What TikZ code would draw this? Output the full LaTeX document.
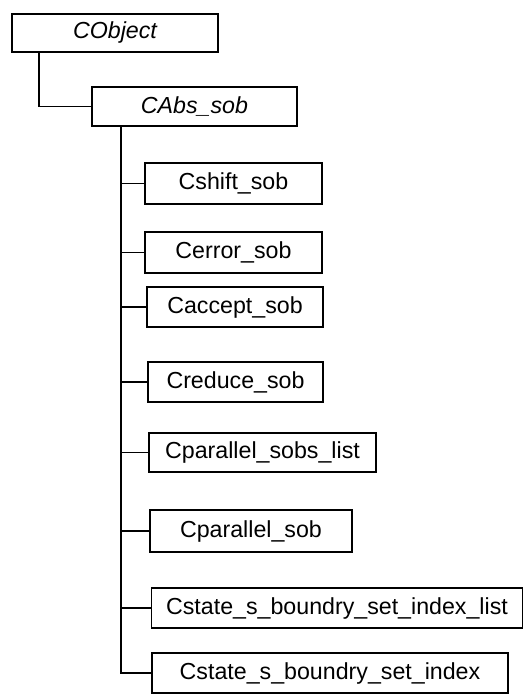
\documentclass[tikz,border=0pt]{standalone}
\usepackage{fontspec}
\setmainfont{Liberation Sans}
\begin{document}
\begin{tikzpicture}[x=1pt,y=-1pt,
  box/.style={draw,line width=1.4pt,rectangle,inner sep=0pt,font=\fontsize{23.2}{25}\selectfont},
  ibox/.style={box,font=\fontsize{23.2}{25}\selectfont\itshape},
  link/.style={line width=1.4pt}]
\useasboundingbox (0,0) rectangle (524,696);
\node[ibox,minimum width=206pt,minimum height=38pt] (cobj) at (115,33) {CObject};
\node[ibox,minimum width=205pt,minimum height=39pt] (cabs) at (194.5,106.5) {CAbs\_sob};
\node[box,minimum width=177pt,minimum height=41pt] (shift) at (233.5,183.5) {Cshift\_sob};
\node[box,minimum width=177pt,minimum height=41pt] (error) at (233.5,252.5) {Cerror\_sob};
\node[box,minimum width=176pt,minimum height=40pt] (accept) at (235,307) {Caccept\_sob};
\node[box,minimum width=175pt,minimum height=40pt] (reduce) at (235.5,382) {Creduce\_sob};
\node[box,minimum width=227pt,minimum height=39pt] (psl) at (262.5,452.5) {Cparallel\_sobs\_list};
\node[box,minimum width=202pt,minimum height=42pt] (psob) at (251,531) {Cparallel\_sob};
\node[box,minimum width=371pt,minimum height=40pt] (sbsil) at (337,608) {Cstate\_s\_boundry\_set\_index\_list};
\node[box,minimum width=356pt,minimum height=40pt] (sbsi) at (330,673) {Cstate\_s\_boundry\_set\_index};
\coordinate (c0) at (39,0);
\coordinate (t0) at (121,0);
\draw[link] (cobj.south -| c0) |- (cabs.west);
\foreach \n in {shift,error,accept,reduce,psl,psob,sbsil,sbsi}
  \draw[link] (cabs.south -| t0) |- (\n.west);
\end{tikzpicture}
\end{document}
